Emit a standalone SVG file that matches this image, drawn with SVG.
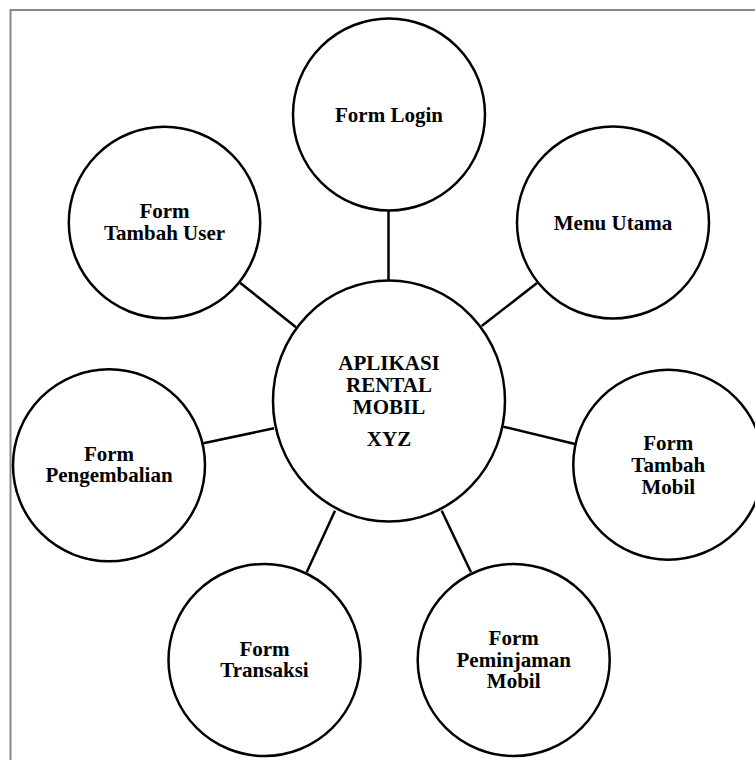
<svg xmlns="http://www.w3.org/2000/svg" width="755" height="760" viewBox="0 0 755 760">
<style>
.n{fill:#fff;stroke:#000;stroke-width:2.5}
.c line{stroke:#000;stroke-width:2.5}
text{font-family:"Liberation Serif","Times New Roman",serif;font-weight:bold;font-size:21px;fill:#000;text-anchor:middle}
</style>
<rect x="10.5" y="10" width="800" height="800" fill="#fff" stroke="#888" stroke-width="2"/>
<g id="connectors" class="c">
<line x1="388.5" y1="210" x2="388.5" y2="281"/>
<line x1="537" y1="283" x2="481.7" y2="326"/>
<line x1="240" y1="282.7" x2="296" y2="327.3"/>
<line x1="203.3" y1="443.3" x2="274" y2="428.3"/>
<line x1="503.3" y1="426.7" x2="575" y2="444"/>
<line x1="335" y1="510.7" x2="306.7" y2="572.3"/>
<line x1="441.7" y1="510.7" x2="471" y2="572.3"/>
</g>
<g id="center">
<ellipse class="n" cx="389" cy="401" rx="116" ry="120.5"/>
<text x="389" y="370">APLIKASI</text>
<text x="389" y="392">RENTAL</text>
<text x="389" y="414">MOBIL</text>
<text x="389" y="445.5">XYZ</text>
</g>
<g id="form-login">
<circle class="n" cx="389" cy="114.5" r="96"/>
<text x="389" y="121.5">Form Login</text>
</g>
<g id="menu-utama">
<circle class="n" cx="613" cy="222.5" r="96"/>
<text x="613" y="230">Menu Utama</text>
</g>
<g id="form-tambah-user">
<circle class="n" cx="164.5" cy="222.5" r="95.7"/>
<text x="164.5" y="218">Form</text>
<text x="164.5" y="240">Tambah User</text>
</g>
<g id="form-pengembalian">
<circle class="n" cx="109" cy="465.3" r="96"/>
<text x="109" y="460.5">Form</text>
<text x="109" y="482">Pengembalian</text>
</g>
<g id="form-tambah-mobil">
<circle class="n" cx="668.3" cy="464.7" r="95"/>
<text x="668.3" y="450">Form</text>
<text x="668.3" y="472">Tambah</text>
<text x="668.3" y="493.5">Mobil</text>
</g>
<g id="form-transaksi">
<circle class="n" cx="264.5" cy="660" r="96"/>
<text x="264.5" y="656">Form</text>
<text x="264.5" y="677">Transaksi</text>
</g>
<g id="form-peminjaman-mobil">
<circle class="n" cx="513.7" cy="660" r="96"/>
<text x="513.7" y="645">Form</text>
<text x="513.7" y="666.5">Peminjaman</text>
<text x="513.7" y="688">Mobil</text>
</g>
</svg>
